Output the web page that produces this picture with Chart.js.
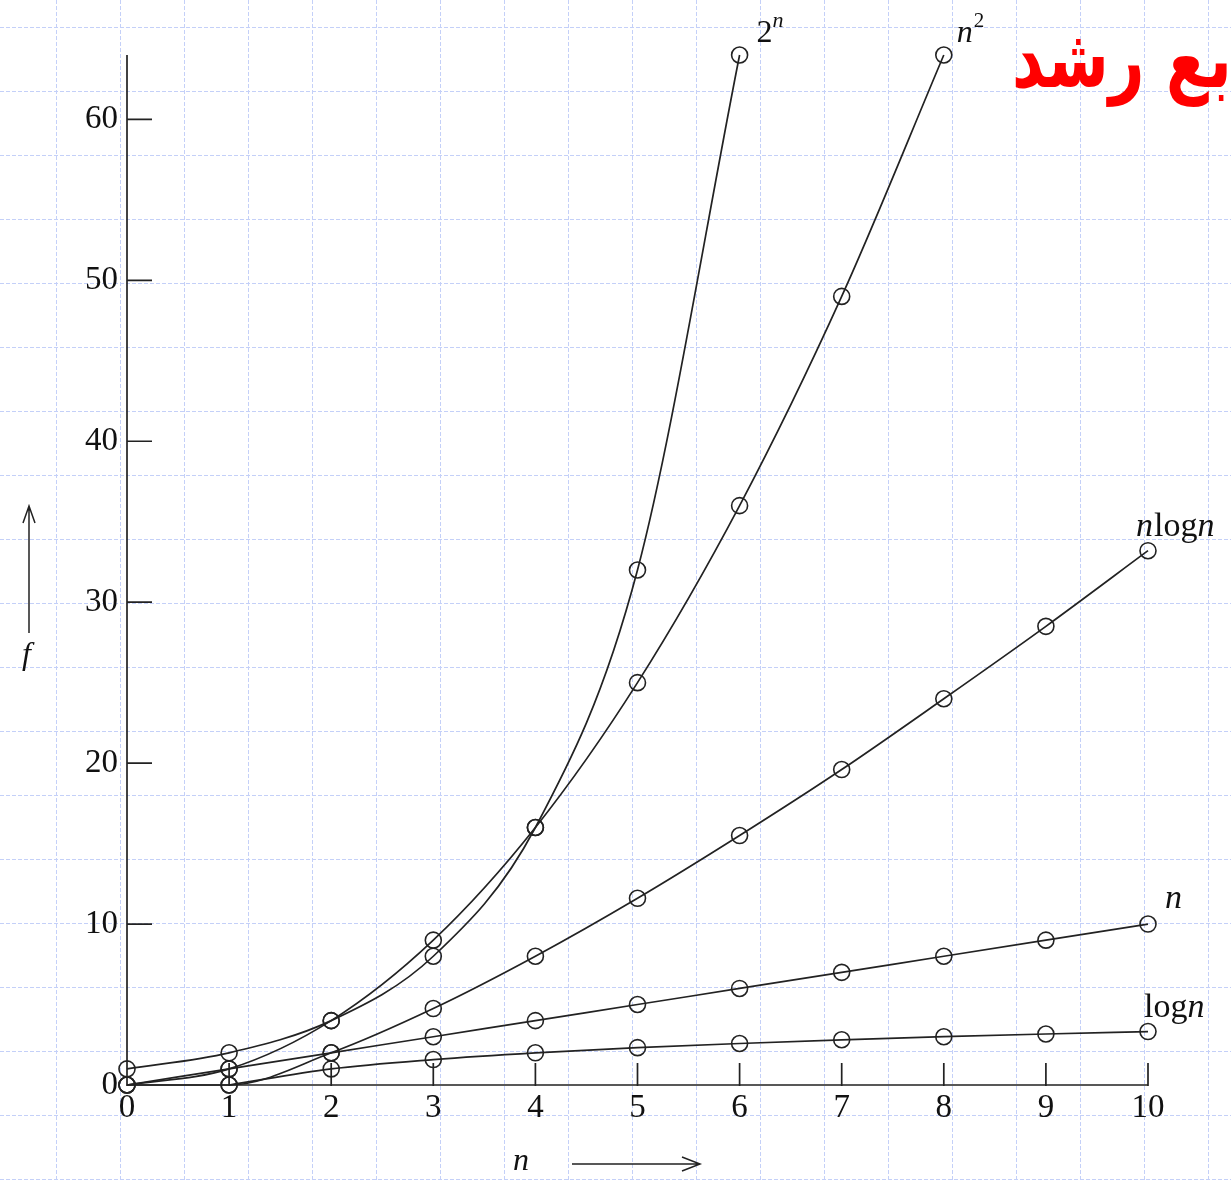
<!DOCTYPE html>
<html><head><meta charset="utf-8">
<script src="https://cdn.jsdelivr.net/npm/chart.js@4.4.1/dist/chart.umd.min.js"></script>
<style>html,body{margin:0;padding:0;background:#fff;overflow:hidden}canvas{display:block}</style>
</head><body>
<canvas id="c" width="1231" height="1182"></canvas>
<script>
// ---- data ----
const nValues = [0, 1, 2, 3, 4, 5, 6, 7, 8, 9, 10];
const xTickValues = [0, 1, 2, 3, 4, 5, 6, 7, 8, 9, 10];
const xTickLabels = ['0', '1', '2', '3', '4', '5', '6', '7', '8', '9', '10'];
const yTickValues = [0, 10, 20, 30, 40, 50, 60];
const yTickLabels = ['0', '10', '20', '30', '40', '50', '60'];
const pow2N    = [1, 2, 4, 8, 16, 32, 64];                       // n = 0..6
const nSquared = [0, 1, 4, 9, 16, 25, 36, 49, 64];              // n = 0..8
const nLogN    = [0, 0, 2, 4.75, 8, 11.6, 15.5, 19.6, 24, 28.5, 33.2];
const linearN  = [0, 1, 2, 3, 4, 5, 6, 7, 8, 9, 10];
const logN     = [null, 0, 1, 1.58, 2, 2.32, 2.58, 2.81, 3, 3.17, 3.32];
const titleText = 'توابع رشد';
const xAxisTitle = 'n';
const yAxisTitle = 'f';

const toPts = arr => arr.map((v, i) => ({x: nValues[i], y: v})).filter(p => p.y !== null);

const INK = '#222222';
const SERIF = '"Liberation Serif", "DejaVu Serif", serif';

function ds(label, arr) {
  return {
    label, data: toPts(arr),
    borderColor: INK, borderWidth: 1.7,
    pointRadius: 8, pointHoverRadius: 8, pointStyle: 'circle',
    pointBackgroundColor: 'rgba(0,0,0,0)', pointBorderColor: INK, pointBorderWidth: 1.6,
    cubicInterpolationMode: 'monotone', fill: false, clip: false
  };
}

// label pieces: [text, italic, size, raise]
const seriesLabels = [
  {idx: 0, dx: 17, dy: -13, parts: [['2', false, 32, 0], ['n', true, 22, 15]]},
  {idx: 1, dx: 13, dy: -13, parts: [['n', true, 32, 0], ['2', false, 21, 15]]},
  {idx: 2, dx: -12, dy: -15, parts: [['n', true, 34, 0], ['log', false, 34, 0], ['n', true, 34, 0]]},
  {idx: 3, dx: 17, dy: -16, parts: [['n', true, 34, 0]]},
  {idx: 4, dx: -4, dy: -15, parts: [['log', false, 34, 0], ['n', true, 34, 0]]}
];

const bgPlugin = {
  id: 'bg',
  beforeDraw(chart) {
    const ctx = chart.ctx, W = chart.width, H = chart.height;
    ctx.save();
    ctx.fillStyle = '#fff'; ctx.fillRect(0, 0, W, H);
    ctx.strokeStyle = 'rgb(196,208,248)'; ctx.lineWidth = 1; ctx.setLineDash([4, 2]);
    ctx.beginPath();
    for (let x = 56; x < W; x += 64) { ctx.moveTo(x + 0.5, 0); ctx.lineTo(x + 0.5, H); }
    for (let y = 27; y < H; y += 64) { ctx.moveTo(0, y + 0.5); ctx.lineTo(W, y + 0.5); }
    ctx.stroke();
    ctx.restore();
  }
};

const axesPlugin = {
  id: 'axesDraw',
  beforeDatasetsDraw(chart) {
    const {ctx, chartArea: a, scales: {x, y}} = chart;
    const x0 = x.getPixelForValue(0), y0 = y.getPixelForValue(0);
    ctx.save();
    ctx.strokeStyle = INK; ctx.lineWidth = 1.7; ctx.setLineDash([]);
    ctx.beginPath();
    ctx.moveTo(x0, a.top); ctx.lineTo(x0, y0 + 1);
    ctx.moveTo(x0, y0); ctx.lineTo(x.getPixelForValue(10), y0);
    yTickValues.forEach(v => { if (v === 0) return; const py = y.getPixelForValue(v); ctx.moveTo(x0, py); ctx.lineTo(x0 + 25, py); });
    xTickValues.forEach(v => { if (v === 0) return; const px = x.getPixelForValue(v); ctx.moveTo(px, y0 + 1); ctx.lineTo(px, y0 - 22); });
    ctx.stroke();
    ctx.restore();
  },
  afterDraw(chart) {
    const {ctx} = chart;
    ctx.save();
    ctx.fillStyle = '#111'; ctx.textBaseline = 'alphabetic'; ctx.textAlign = 'left';
    // series labels
    seriesLabels.forEach(l => {
      const pts = chart.getDatasetMeta(l.idx).data;
      const last = pts[pts.length - 1];
      let cx = last.x + l.dx;
      const by = last.y + l.dy;
      l.parts.forEach(([t, it, sz, raise]) => {
        ctx.font = (it ? 'italic ' : '') + sz + 'px ' + SERIF;
        ctx.fillText(t, cx, by - raise);
        cx += ctx.measureText(t).width + (it ? 1 : 0);
      });
    });
    // axis titles with arrows
    ctx.font = 'italic 32px ' + SERIF;
    ctx.fillText(xAxisTitle, 513, 1170);
    ctx.fillText(yAxisTitle, 22, 664);
    ctx.strokeStyle = INK; ctx.lineWidth = 1.5;
    ctx.beginPath();
    ctx.moveTo(572, 1164); ctx.lineTo(700, 1164);
    ctx.moveTo(682, 1157); ctx.lineTo(700, 1164); ctx.lineTo(682, 1171);
    ctx.moveTo(29, 633); ctx.lineTo(29, 506);
    ctx.moveTo(23, 523); ctx.lineTo(29, 506); ctx.lineTo(35, 523);
    ctx.stroke();
    // Arabic title (partially outside the frame on the right)
    let size = 64;
    ctx.font = 'bold ' + size + 'px "DejaVu Sans", sans-serif';
    const w = ctx.measureText('رشد').width;
    size = Math.round(size * 133 / w);
    ctx.font = 'bold ' + size + 'px "DejaVu Sans", sans-serif';
    ctx.fillStyle = '#ff0000';
    ctx.translate(1012, 87);
    ctx.scale(1, 1.3);
    ctx.fillText(titleText, 0, 0);
    ctx.restore();
  }
};

new Chart(document.getElementById('c'), {
  type: 'line',
  data: {
    datasets: [
      ds('2^n', pow2N),
      ds('n^2', nSquared),
      ds('n log n', nLogN),
      ds('n', linearN),
      ds('log n', logN)
    ]
  },
  options: {
    responsive: false, animation: false, devicePixelRatio: 1,
    layout: {padding: {left: 0, right: 83, top: 55, bottom: 0}},
    plugins: {legend: {display: false}, tooltip: {enabled: false}, title: {display: false}},
    events: [],
    scales: {
      x: {
        type: 'linear', min: 0, max: 10,
        afterBuildTicks: s => { s.ticks = xTickValues.map(v => ({value: v})); },
        afterFit: s => { s.height = 97; },
        grid: {display: false, drawTicks: false}, border: {display: false},
        ticks: {color: '#111', padding: 4, maxRotation: 0, autoSkip: false,
                font: {family: SERIF, size: 33},
                callback: (v, i) => xTickLabels[i]}
      },
      y: {
        type: 'linear', min: 0, max: 64,
        afterBuildTicks: s => { s.ticks = yTickValues.map(v => ({value: v})); },
        afterFit: s => { s.width = 127; },
        grid: {display: false, drawTicks: false}, border: {display: false},
        ticks: {color: '#111', padding: 9, autoSkip: false,
                font: {family: SERIF, size: 33},
                callback: (v, i) => yTickLabels[i]}
      }
    }
  },
  plugins: [bgPlugin, axesPlugin]
});
</script>
</body></html>
